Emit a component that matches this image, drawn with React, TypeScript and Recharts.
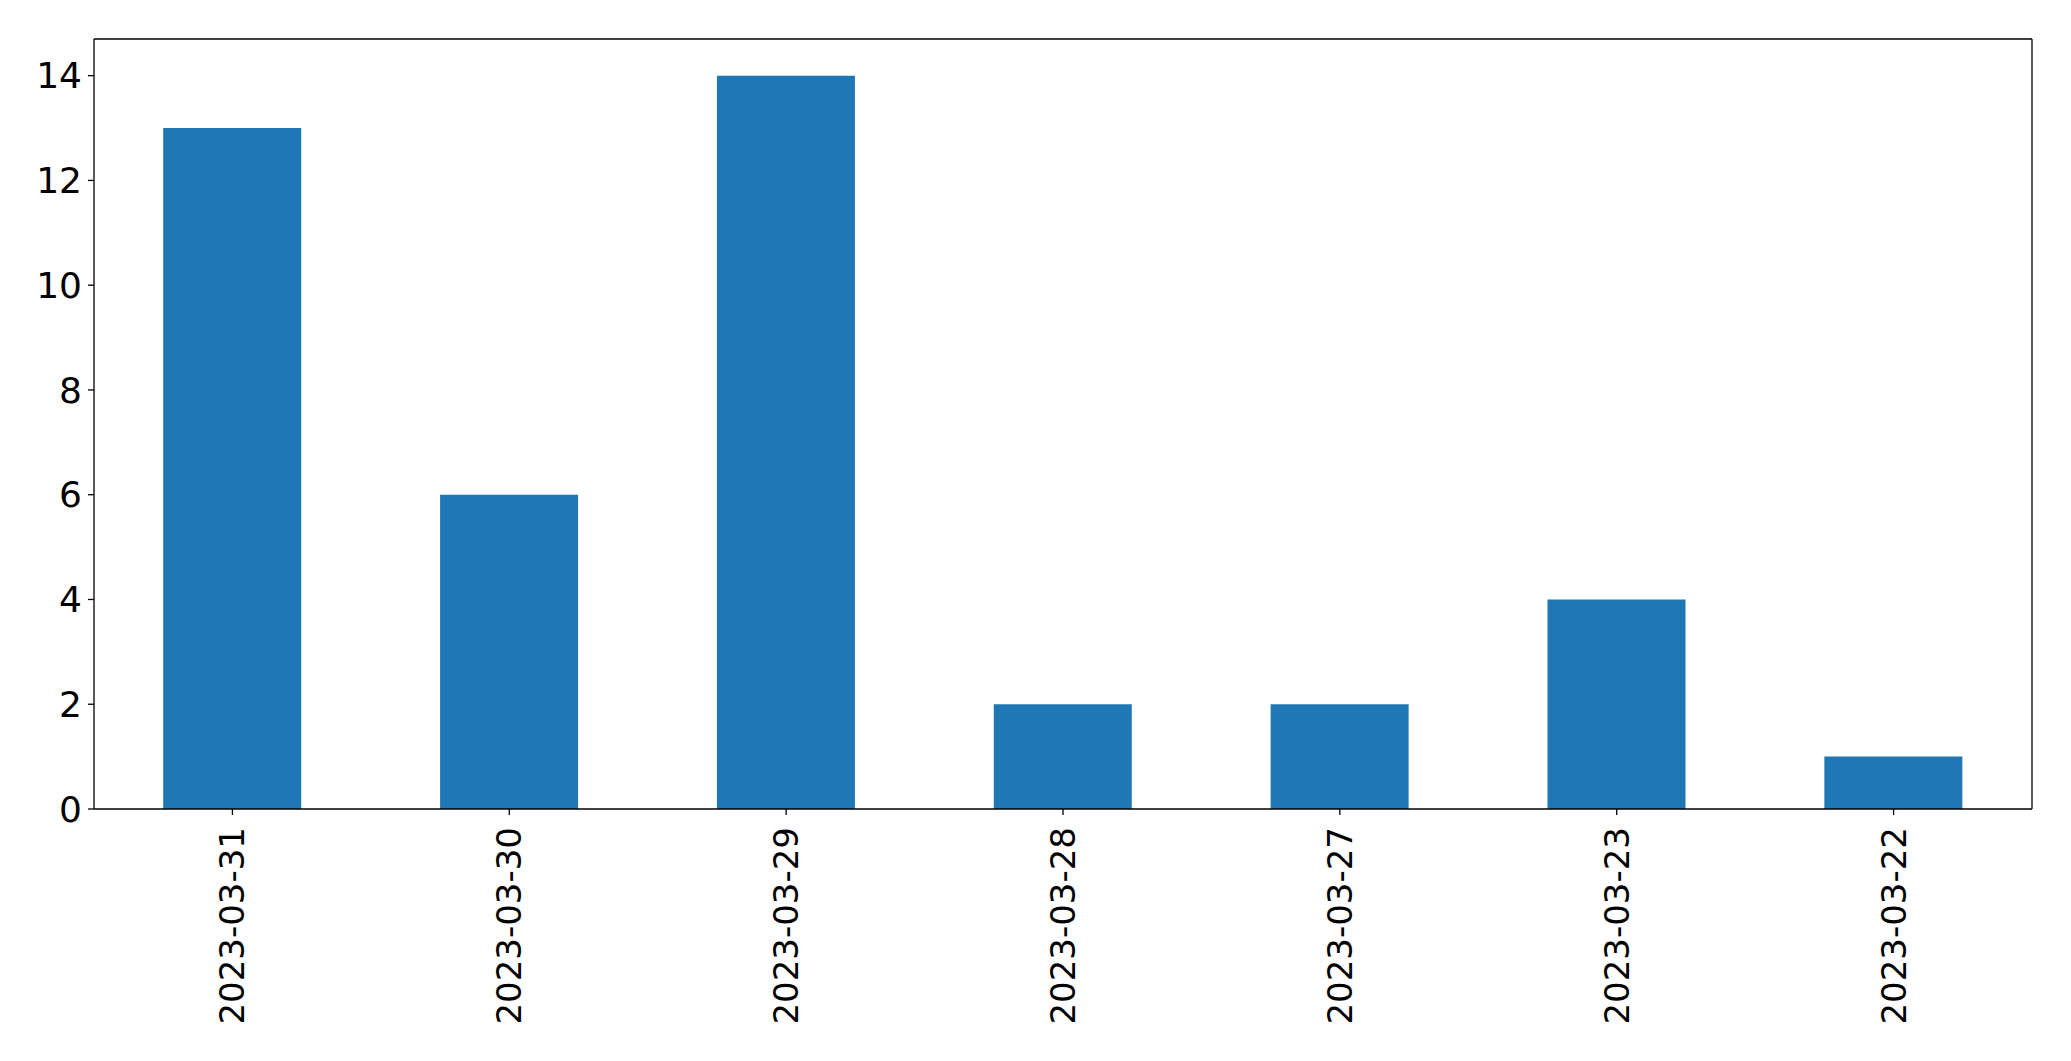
import { Bar, BarChart, CartesianGrid, XAxis, YAxis } from "recharts";

const dates = [
  "2023-03-31",
  "2023-03-30",
  "2023-03-29",
  "2023-03-28",
  "2023-03-27",
  "2023-03-23",
  "2023-03-22",
];
const counts = [13, 6, 14, 2, 2, 4, 1];
const yTicks = [0, 2, 4, 6, 8, 10, 12, 14];

const rows = dates.map((date, i) => ({ date, count: counts[i] }));

const FONT = "DejaVu Sans";

/** Vertical date labels, read bottom-to-top like matplotlib's rotation=90. */
function DateTick({ x, y, payload }: { x?: number; y?: number; payload?: { value: string } }) {
  return (
    <text
      x={0}
      y={0}
      transform={`translate(${(x ?? 0) + 12}, ${(y ?? 0) + 8}) rotate(-90)`}
      textAnchor="end"
      fontFamily={FONT}
      fontSize={34}
      fill="#000"
    >
      {payload?.value}
    </text>
  );
}

// top and right spines of the matplotlib-style box
const topEdge = ({ offset }: any) => [offset.top];
const rightEdge = ({ offset }: any) => [offset.left + offset.width];

export default function App() {
  return (
    <div style={{ position: "fixed", left: 0, top: 0, width: 2071, height: 1061, background: "#fff" }}>
      <BarChart
        width={2071}
        height={1061}
        data={rows}
        margin={{ top: 39, right: 39, bottom: 0, left: 0 }}
        barCategoryGap="25%"
      >
        <CartesianGrid
          stroke="#000"
          strokeWidth={1.3}
          horizontalCoordinatesGenerator={topEdge}
          verticalCoordinatesGenerator={rightEdge}
        />
        <XAxis
          dataKey="date"
          height={252}
          interval={0}
          tick={<DateTick />}
          tickSize={6}
          tickMargin={4}
          axisLine={{ stroke: "#000", strokeWidth: 1.3 }}
          tickLine={{ stroke: "#000", strokeWidth: 1.3 }}
        />
        <YAxis
          width={94}
          domain={[0, 14.7]}
          ticks={yTicks}
          interval={0}
          tickSize={6}
          tickMargin={6}
          tick={{ fontFamily: FONT, fontSize: 36, fill: "#000" }}
          axisLine={{ stroke: "#000", strokeWidth: 1.3 }}
          tickLine={{ stroke: "#000", strokeWidth: 1.3 }}
        />
        <Bar dataKey="count" fill="#1f77b4" isAnimationActive={false} />
      </BarChart>
    </div>
  );
}
